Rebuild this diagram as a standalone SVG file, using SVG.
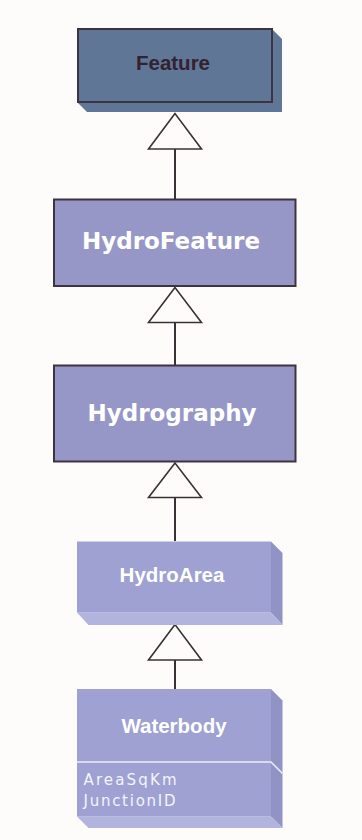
<svg xmlns="http://www.w3.org/2000/svg" width="362" height="840" viewBox="0 0 362 840">
  <defs>
    <style>
      .edge { stroke: #3a3038; stroke-width: 2; fill: none; }
      .head { fill: #fdfcfa; stroke: #3a3038; stroke-width: 1.6; stroke-linejoin: miter; }
      .box { stroke: #3e3340; stroke-width: 2; }
      .front { fill: #9ea1d2; }
      .side { fill: #9193c4; }
      .bottom { fill: #b2b4de; }
      .title-big { font-family: "DejaVu Sans", Verdana, sans-serif; font-weight: bold; font-size: 23px; fill: #ffffff; text-anchor: middle; }
      .title-small { font-family: "Liberation Sans", Arial, sans-serif; font-weight: bold; font-size: 20.5px; text-anchor: middle; }
      .attr { font-family: "DejaVu Sans", Verdana, sans-serif; font-size: 15px; fill: #f4f4fa; }
    </style>
  </defs>

  <rect x="0" y="0" width="362" height="840" fill="#fdfcfa"/>

  <!-- generalization connectors -->
  <g id="connectors">
    <line class="edge" x1="175" y1="149" x2="175" y2="199"/>
    <polygon class="head" points="175,113.5 148.5,149 201.5,149"/>
    <line class="edge" x1="175" y1="322.5" x2="175" y2="365"/>
    <polygon class="head" points="175,287.5 148.5,322.5 201.5,322.5"/>
    <line class="edge" x1="175" y1="497.5" x2="175" y2="541"/>
    <polygon class="head" points="175,463 148.5,497.5 201.5,497.5"/>
    <line class="edge" x1="175" y1="660" x2="175" y2="689"/>
    <polygon class="head" points="175,624.5 148.5,660 201.5,660"/>
  </g>

  <!-- Feature -->
  <g id="feature">
    <polygon points="272,29 282,39 282,112 87,112 77,102" fill="#5f7697"/>
    <rect class="box" x="78" y="29" width="194" height="73" fill="#5f7697"/>
    <text class="title-small" x="173" y="69.5" fill="#33222f" font-size="21">Feature</text>
  </g>

  <!-- HydroFeature -->
  <g id="hydrofeature">
    <rect class="box" x="54" y="199.5" width="241.5" height="86.5" fill="#9797c7"/>
    <text class="title-big" x="171" y="248.5">HydroFeature</text>
  </g>

  <!-- Hydrography -->
  <g id="hydrography">
    <rect class="box" x="54" y="365.5" width="241.5" height="96" fill="#9797c7"/>
    <text class="title-big" x="172" y="421">Hydrography</text>
  </g>

  <!-- HydroArea -->
  <g id="hydroarea">
    <polygon class="side" points="271,541.5 282.5,553 282.5,625 271,612.5"/>
    <polygon class="bottom" points="77,612.5 271,612.5 282.5,625 88.5,625"/>
    <rect class="front" x="77" y="541.5" width="194" height="71"/>
    <text class="title-small" x="172" y="582" fill="#ffffff">HydroArea</text>
  </g>

  <!-- Waterbody -->
  <g id="waterbody">
    <polygon class="side" points="271,689 282.5,700.5 282.5,828 271,816.5"/>
    <polygon class="bottom" points="77,816.5 271,816.5 282.5,828 88.5,828"/>
    <rect class="front" x="77" y="689" width="194" height="127.5"/>
    <polyline points="77,762 271,762 282.5,773.5" fill="none" stroke="#ececf6" stroke-width="1.5"/>
    <text class="title-small" x="174" y="732.5" fill="#ffffff" font-size="21">Waterbody</text>
    <text class="attr" x="83.5" y="785" textLength="93" lengthAdjust="spacing">AreaSqKm</text>
    <text class="attr" x="83.5" y="806" textLength="92" lengthAdjust="spacing">JunctionID</text>
  </g>
</svg>
